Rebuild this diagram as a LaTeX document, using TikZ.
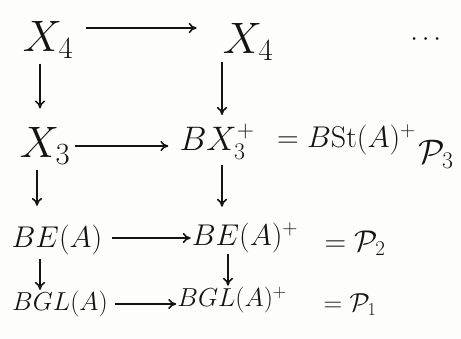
\RequirePackage{fix-cm}
\documentclass[tikz,border=0pt]{standalone}
\usepackage{amsmath,amssymb}
\usepackage{tikz}
\usetikzlibrary{arrows.meta,positioning}
\usepackage{xcolor}
\definecolor{ink}{HTML}{141414}
\definecolor{paper}{HTML}{FDFDFB}
\tikzset{bigobj/.style={inner sep=1pt,text=ink,font=\fontsize{44}{48}\selectfont},midobj/.style={inner sep=1pt,text=ink,font=\fontsize{34}{38}\selectfont},lowobj/.style={inner sep=1pt,text=ink,font=\fontsize{30}{34}\selectfont},smallobj/.style={inner sep=1pt,text=ink,font=\fontsize{26}{30}\selectfont},mapto/.style={draw=ink,line width=1.6pt,-{To[length=2.8mm,width=3.6mm]}}}

\begin{document}
\begin{tikzpicture}[x=1pt,y=-1pt]
\fill[paper] (0,0) rectangle (461,338);
\useasboundingbox (0,0) rectangle (461,338);
% top row
\node[bigobj] (x4a) at (48,40) {$X_4$};
\node[bigobj] (x4b) at (248,42) {$X_4$};
\node[smallobj] (dots) at (428,40) {$\cdots$};
% second row
\node[bigobj] (x3a) at (45,146) {$X_3$};
\node[midobj] (bx3) at (217,142) {$BX_3^{+}$};
\node[lowobj,anchor=west] (bst) at (276,140) {$=B\mathrm{St}(A)^{+}$};
\node[midobj] (p3) at (436,154) {$\mathcal{P}_3$};
% third row
\node[lowobj] (bea) at (57,240) {$BE(A)$};
\node[lowobj] (beb) at (245,238) {$BE(A)^{+}$};
\node[lowobj] (p2) at (355,243) {$=\mathcal{P}_2$};
% bottom row
\node[smallobj] (bgla) at (60,304) {$BGL(A)$};
\node[smallobj] (bglb) at (232,300) {$BGL(A)^{+}$};
\node[smallobj] (p1) at (350,305) {$=\mathcal{P}_1$};
% maps
\draw[mapto,shorten <=12pt,shorten >=25pt] ([yshift=12pt]x4a.east) -- ([yshift=12pt]x4a.east -| x4b.west);
\draw[mapto,shorten <=4pt,shorten >=10pt] (x3a.east) -- (x3a.east -| bx3.west);
\draw[mapto,shorten <=8pt] ([yshift=2pt]bea.east) -- ([yshift=2pt]bea.east -| beb.west);
\draw[mapto,shorten <=6pt] (bgla.east) -- (bgla.east -| bglb.west);
\draw[mapto,shorten <=4pt,shorten >=18pt] ([xshift=-8pt]x4a.south) -- ([xshift=-8pt]x4a.south |- x3a.north);
\draw[mapto,shorten >=8pt] ([xshift=-26pt]x4b.south) -- ([xshift=-26pt]x4b.south |- bx3.north);
\draw[mapto,shorten <=4pt,shorten >=18pt] ([xshift=-8pt]x3a.south) -- ([xshift=-8pt]x3a.south |- bea.north);
\draw[mapto,shorten <=4pt,shorten >=15pt] ([xshift=5pt]bx3.south) -- ([xshift=5pt]bx3.south |- beb.north);
\draw[mapto,shorten <=3pt] ([xshift=-17pt]bea.south) -- ([xshift=-17pt]bea.south |- bgla.north);
\draw[mapto] ([xshift=-17pt]beb.south) -- ([xshift=-17pt]beb.south |- bglb.north);
\end{tikzpicture}
\end{document}
